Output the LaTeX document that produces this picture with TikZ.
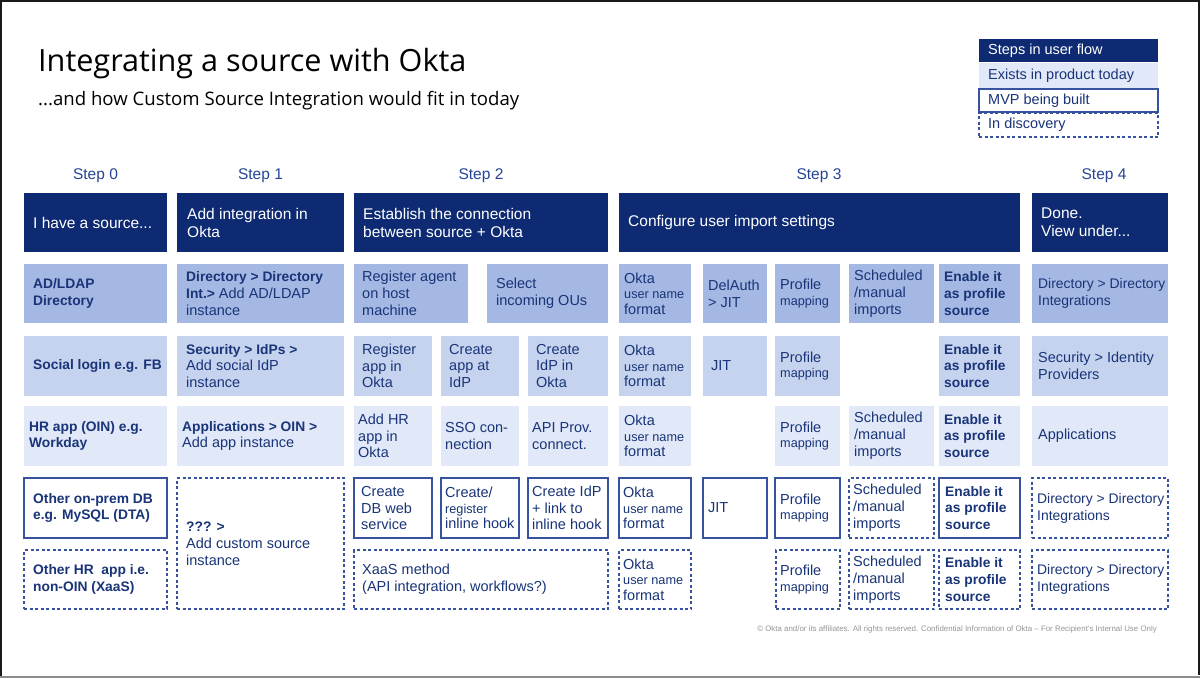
\documentclass[tikz,border=0pt]{standalone}
\usepackage{fontspec}
\setmainfont{Liberation Sans}
\newfontfamily\titlefont{Open Sans}
\definecolor{navy}{RGB}{13,42,115}
\definecolor{cone}{RGB}{164,184,227}
\definecolor{ctwo}{RGB}{198,211,239}
\definecolor{cthree}{RGB}{225,232,248}
\definecolor{txt}{RGB}{25,52,120}
\definecolor{stepc}{RGB}{38,68,150}
\definecolor{bord}{RGB}{55,82,158}
\definecolor{foot}{RGB}{150,150,150}
\newcommand\fsz[2]{\fontsize{#1}{#2}\selectfont}
\newcommand\sml[1]{{\fsz{12.7}{15.5}#1}}
\newcommand\cell[9]{%
  \pgfmathsetmacro\cw{#5-#3}\pgfmathsetmacro\ch{#6-#4}%
  \node[boxbase,#1,minimum width=\cw pt,minimum height=\ch pt] (#2) at (#3,#4) {};
  \node[txtbase,#8] (#2t) at ([xshift=#7pt]#2.west) {#9};}
\tikzset{
  boxbase/.style={anchor=north west, inner sep=0pt, outer sep=0pt},
  txtbase/.style={anchor=west, inner sep=0pt, align=left, text=txt, font=\fsz{14.5}{16.8}},
  hdr/.style={fill=navy},
  hdrt/.style={text=white, font=\fsz{15.5}{18}},
  rone/.style={fill=cone},
  rtwo/.style={fill=ctwo},
  rthree/.style={fill=cthree},
  mvp/.style={draw=bord, line width=1.3pt, fill=white},
  disc/.style={draw=bord, line width=1.2pt, dash pattern=on 3pt off 2.5pt},
  okt/.style={font=\fsz{14.5}{15.5}},
  dirt/.style={font=\fsz{13.9}{16.8}},
  bt/.style={font=\fsz{13.8}{16.8}\bfseries},
  steplbl/.style={anchor=base, inner sep=0pt, text=stepc, font=\fsz{15.5}{18}},
  legt/.style={font=\fsz{14.5}{17}}
}
\begin{document}
\begin{tikzpicture}[x=1pt,y=-1pt]
\useasboundingbox (0,0) rectangle (1200,678);
\fill[white] (0,0) rectangle (1200,678);
% screenshot frame
\fill[black!90] (0,0) rectangle (1200,1.5);
\fill[black!90] (0,0) rectangle (1.5,678);
\fill[black!90] (1198.2,0) rectangle (1200,675);
\fill[black!45] (0,675.5) rectangle (1200,678);

% title
\node[anchor=base west, inner sep=0pt, font=\titlefont\fsz{30.6}{35}] (title) at (38,71.7) {Integrating a source with Okta};
\node[anchor=base west, inner sep=0pt, font=\titlefont\fsz{18.6}{22}] (subtitle) at (38,105) {...and how Custom Source Integration would fit in today};

% legend
\cell{hdr}{lg1}{979}{39}{1158}{62}{9}{legt,text=white}{Steps in user flow}
\cell{rthree}{lg2}{979}{63}{1158}{88}{9}{legt}{Exists in product today}
\cell{mvp}{lg3}{979}{89}{1158}{112}{9}{legt}{MVP being built}
\cell{disc}{lg4}{979}{113}{1158}{137}{9}{legt}{In discovery}

% step labels
\node[steplbl] (s0) at (95.5,179) {Step 0};
\node[steplbl] (s1) at (260.5,179) {Step 1};
\node[steplbl] (s2) at (481,179) {Step 2};
\node[steplbl] (s3) at (819,179) {Step 3};
\node[steplbl] (s4) at (1104,179) {Step 4};

% header row
\cell{hdr}{h0}{24}{193}{167}{252}{9}{hdrt}{I have a source...}
\cell{hdr}{h1}{177}{193}{344}{252}{10}{hdrt}{Add integration in\\Okta}
\cell{hdr}{h2}{354}{193}{608}{252}{9}{hdrt}{Establish the connection\\between source + Okta}
\cell{hdr}{h3}{619}{193}{1020}{252}{9}{hdrt}{Configure user import settings}
\cell{hdr}{h4}{1032}{193}{1168}{252}{9}{hdrt}{Done.\\View under...}

% row 1: AD/LDAP
\cell{rone}{a0}{24}{264}{167}{323}{9}{bt}{AD/LDAP\\Directory}
\cell{rone}{a1}{177}{264}{344}{323}{9}{}{\textbf{\fsz{13.8}{16.8}Directory > Directory}\\\textbf{\fsz{13.8}{16.8}Int.>} Add AD/LDAP\\instance}
\cell{rone}{a2}{354}{264}{468}{323}{8}{}{Register agent\\on host\\machine}
\cell{rone}{a3}{487}{264}{608}{323}{9}{}{Select\\incoming OUs}
\cell{rone}{a4}{619}{264}{691}{323}{5}{okt}{Okta\\\sml{user name}\\format}
\cell{rone}{a5}{703}{264}{767}{323}{5}{}{DelAuth\\> JIT}
\cell{rone}{a6}{775}{264}{840}{323}{5}{okt}{Profile\\\sml{mapping}}
\cell{rone}{a7}{849}{264}{934}{323}{5}{}{Scheduled\\/manual\\imports}
\cell{rone}{a8}{939}{264}{1020}{323}{5}{bt}{Enable it\\as profile\\source}
\cell{rone}{a9}{1032}{264}{1168}{323}{6}{dirt}{Directory > Directory\\Integrations}

% row 2: Social
\cell{rtwo}{b0}{24}{336}{167}{396}{9}{bt}{Social login e.g. FB}
\cell{rtwo}{b1}{177}{336}{344}{396}{9}{}{\textbf{\fsz{13.8}{16.8}Security > IdPs >}\\Add social IdP\\instance}
\cell{rtwo}{b2}{354}{336}{432}{396}{8}{}{Register\\app in\\Okta}
\cell{rtwo}{b3}{441}{336}{519}{396}{8}{}{Create\\app at\\IdP}
\cell{rtwo}{b4}{528}{336}{608}{396}{8}{}{Create\\IdP in\\Okta}
\cell{rtwo}{b5}{619}{336}{691}{396}{5}{okt}{Okta\\\sml{user name}\\format}
\cell{rtwo}{b6}{703}{336}{767}{396}{8}{}{JIT}
\cell{rtwo}{b7}{775}{336}{840}{396}{5}{okt}{Profile\\\sml{mapping}}
\cell{rtwo}{b8}{939}{336}{1020}{396}{5}{bt}{Enable it\\as profile\\source}
\cell{rtwo}{b9}{1032}{336}{1168}{396}{6}{}{Security > Identity\\Providers}

% row 3: HR app (OIN)
\cell{rthree}{c0}{24}{406}{167}{466}{5}{bt}{HR app (OIN) e.g.\\Workday}
\cell{rthree}{c1}{177}{406}{344}{466}{5}{}{\textbf{\fsz{13.8}{16.8}Applications > OIN >}\\Add app instance}
\cell{rthree}{c2}{354}{406}{432}{466}{4}{}{Add HR\\app in\\Okta}
\cell{rthree}{c3}{441}{406}{519}{466}{4}{}{SSO con-\\nection}
\cell{rthree}{c4}{528}{406}{608}{466}{4}{}{API Prov.\\connect.}
\cell{rthree}{c5}{619}{406}{691}{466}{5}{okt}{Okta\\\sml{user name}\\format}
\cell{rthree}{c7}{775}{406}{840}{466}{5}{okt}{Profile\\\sml{mapping}}
\cell{rthree}{c8}{849}{406}{934}{466}{5}{}{Scheduled\\/manual\\imports}
\cell{rthree}{c9}{939}{406}{1020}{466}{5}{bt}{Enable it\\as profile\\source}
\cell{rthree}{c10}{1032}{406}{1168}{466}{6}{}{Applications}

% row 4: on-prem DB (MVP)
\cell{mvp}{d0}{24}{478}{167}{538}{9}{bt}{Other on-prem DB\\e.g. MySQL (DTA)}
\cell{disc}{d1}{177}{478}{344}{609}{9}{}{\textbf{\fsz{13.8}{16.8}??? >}\\Add custom source\\instance}
\cell{mvp}{d2}{354}{478}{432}{538}{7}{}{Create\\DB web\\service}
\cell{mvp}{d3}{441}{478}{519}{538}{4}{okt}{Create/\\\sml{register}\\inline hook}
\cell{mvp}{d4}{528}{478}{608}{538}{4}{}{Create IdP\\+ link to\\inline hook}
\cell{mvp}{d5}{619}{478}{691}{538}{4}{okt}{Okta\\\sml{user name}\\format}
\cell{mvp}{d6}{703}{478}{767}{538}{5}{}{JIT}
\cell{mvp}{d7}{775}{478}{840}{538}{5}{okt}{Profile\\\sml{mapping}}
\cell{disc}{d8}{849}{478}{934}{538}{4}{}{Scheduled\\/manual\\imports}
\cell{mvp}{d9}{939}{478}{1020}{538}{6}{bt}{Enable it\\as profile\\source}
\cell{disc}{d10}{1032}{478}{1168}{538}{5}{dirt}{Directory > Directory\\Integrations}

% row 5: non-OIN HR app (discovery)
\cell{disc}{e0}{24}{550}{167}{609}{9}{bt}{Other HR\ \ app i.e.\\non-OIN (XaaS)}
\cell{disc}{e2}{354}{550}{608}{609}{8}{}{XaaS method\\(API integration, workflows?)}
\cell{disc}{e5}{619}{550}{691}{609}{4}{okt}{Okta\\\sml{user name}\\format}
\cell{disc}{e7}{776}{550}{840}{609}{4}{okt}{Profile\\\sml{mapping}}
\cell{disc}{e8}{849}{550}{934}{609}{4}{}{Scheduled\\/manual\\imports}
\cell{disc}{e9}{939}{550}{1020}{609}{6}{bt}{Enable it\\as profile\\source}
\cell{disc}{e10}{1032}{550}{1168}{609}{5}{dirt}{Directory > Directory\\Integrations}

% footer
\node[anchor=base east, inner sep=0pt, text=foot, font=\fsz{7.9}{9}] (footer) at (1157,631.5) {© Okta and/or its affiliates. All rights reserved. Confidential Information of Okta – For Recipient's Internal Use Only};
\end{tikzpicture}
\end{document}
